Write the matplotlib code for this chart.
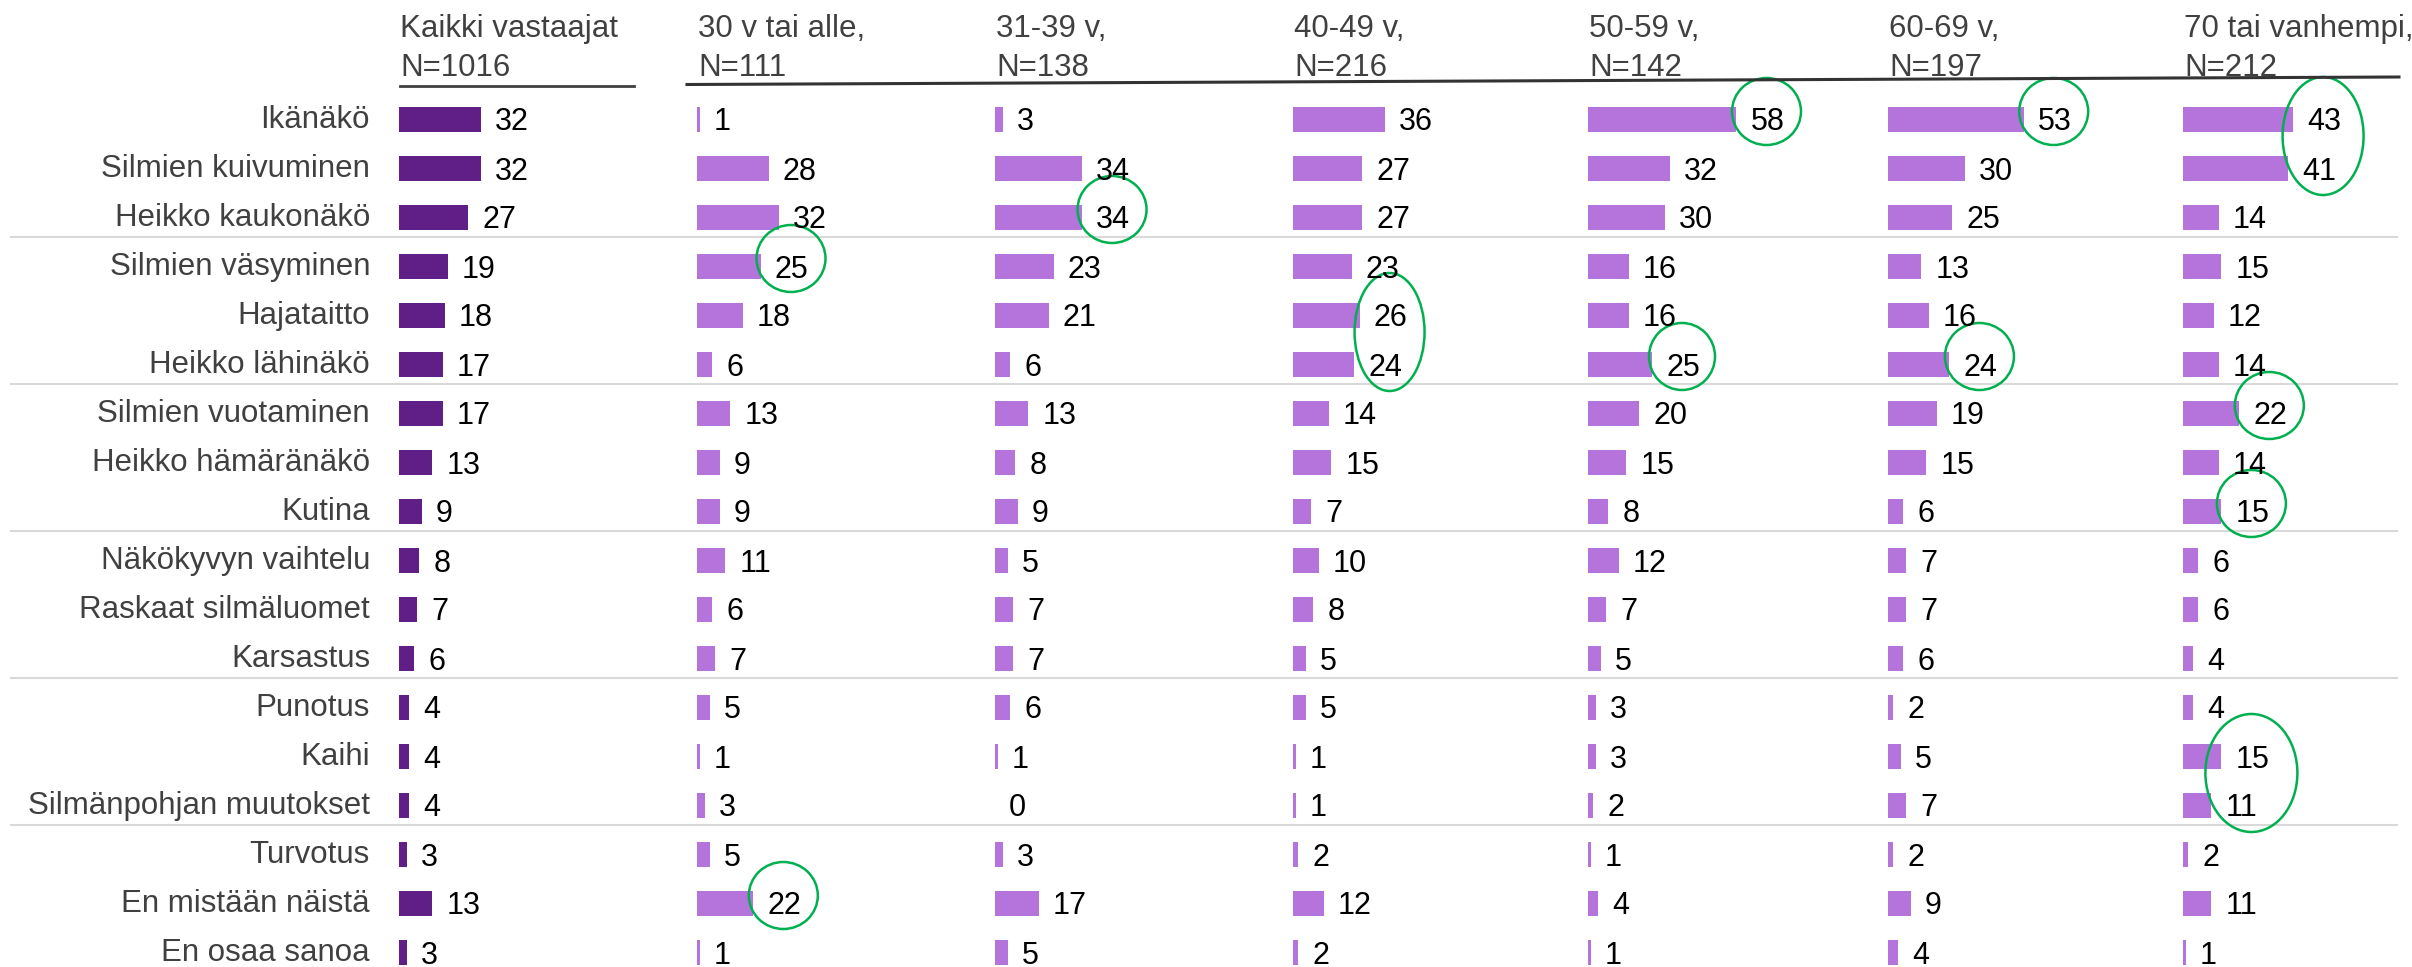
import matplotlib
matplotlib.use('Agg')
import matplotlib.pyplot as plt
from matplotlib.patches import Ellipse
from matplotlib.lines import Line2D

plt.rcParams['font.family'] = ['Liberation Sans', 'DejaVu Sans']

rows = ['Ikänäkö', 'Silmien kuivuminen', 'Heikko kaukonäkö', 'Silmien väsyminen',
        'Hajataitto', 'Heikko lähinäkö', 'Silmien vuotaminen', 'Heikko hämäränäkö',
        'Kutina', 'Näkökyvyn vaihtelu', 'Raskaat silmäluomet', 'Karsastus',
        'Punotus', 'Kaihi', 'Silmänpohjan muutokset', 'Turvotus',
        'En mistään näistä', 'En osaa sanoa']

groups = ['Kaikki vastaajat', '30 v tai alle,', '31-39 v,', '40-49 v,',
          '50-59 v,', '60-69 v,', '70 tai vanhempi,']
group_n = ['N=1016', 'N=111', 'N=138', 'N=216', 'N=142', 'N=197', 'N=212']

kaikki = [32, 32, 27, 19, 18, 17, 17, 13, 9, 8, 7, 6, 4, 4, 4, 3, 13, 3]
v30 = [1, 28, 32, 25, 18, 6, 13, 9, 9, 11, 6, 7, 5, 1, 3, 5, 22, 1]
v31_39 = [3, 34, 34, 23, 21, 6, 13, 8, 9, 5, 7, 7, 6, 1, 0, 3, 17, 5]
v40_49 = [36, 27, 27, 23, 26, 24, 14, 15, 7, 10, 8, 5, 5, 1, 1, 2, 12, 2]
v50_59 = [58, 32, 30, 16, 16, 25, 20, 15, 8, 12, 7, 5, 3, 3, 2, 1, 4, 1]
v60_69 = [53, 30, 25, 13, 16, 24, 19, 15, 6, 7, 7, 6, 2, 5, 7, 2, 9, 4]
v70 = [43, 41, 14, 15, 12, 14, 22, 14, 15, 6, 6, 4, 4, 15, 11, 2, 11, 1]
values = [kaikki, v30, v31_39, v40_49, v50_59, v60_69, v70]

# circled values: (group index, row indices)
highlights = [(1, [3]), (1, [16]), (2, [2]), (3, [4, 5]), (4, [0]), (4, [5]),
              (5, [0]), (5, [5]), (6, [0, 1]), (6, [6]), (6, [8]), (6, [13, 14])]
# ellipse widths in pixels, same order
hl_width = [69, 69, 69, 70, 69, 66, 69, 69, 81, 69, 69, 92]

W, H = 2412, 967
fig = plt.figure(figsize=(W / 100, H / 100), dpi=100)

px_unit = 2.56      # pixels per percentage point
row_px = 49         # row spacing in pixels
top_px = 95         # top of first row band
col_left = [399, 697, 995, 1293, 1588, 1888, 2183]
col_w = 285
dark = '#5f1f87'
light = '#b474dc'
txt = '#404040'
green = '#00b050'

y_low = (H - top_px) / row_px - 0.5
ax_h = (H - top_px) / H

# grey separators between row groups
bg = fig.add_axes([10 / W, 0, (2398 - 10) / W, ax_h])
bg.set_ylim(y_low, -0.5)
bg.set_xlim(0, 1)
bg.axis('off')
for k in [2, 5, 8, 11, 14]:
    bg.axhline(k + 0.39, color='#d9d9d9', lw=1.5)

axes = []
for g, vals in enumerate(values):
    ax = fig.add_axes([col_left[g] / W, 0, col_w / W, ax_h])
    ax.set_xlim(0, col_w / px_unit)
    ax.set_ylim(y_low, -0.5)
    ax.axis('off')
    ax.patch.set_alpha(0)
    ypos = list(range(len(rows)))
    ax.barh(ypos, vals, height=25 / row_px, color=dark if g == 0 else light)
    for i, v in enumerate(vals):
        ax.annotate(str(v), (v, i), xytext=(14, -11), textcoords='offset pixels',
                    va='baseline', ha='left', fontsize=22, color='black')
    # headers
    fig.text((col_left[g] + 1) / W, 1 - 37 / H, groups[g], fontsize=22.5,
             color=txt, va='baseline', ha='left')
    fig.text((col_left[g] + 1) / W, 1 - 76 / H, group_n[g], fontsize=22.5,
             color=txt, va='baseline', ha='left')
    axes.append(ax)

# row labels
for i, lab in enumerate(rows):
    axes[0].annotate(lab, (0, i), xytext=(-29, -8.5), textcoords='offset pixels',
                     ha='right', va='baseline', fontsize=22.5, color=txt)

# green highlight ellipses
for (g, idx), w_px in zip(highlights, hl_width):
    ax = axes[g]
    vmax = max(values[g][i] for i in idx)
    cx = vmax + 30 / px_unit
    cy = sum(idx) / len(idx) - 8 / row_px
    h_px = 67 if len(idx) == 1 else 118
    ax.add_patch(Ellipse((cx, cy), w_px / px_unit, h_px / row_px, fill=False,
                         edgecolor=green, lw=1.8, clip_on=False))

# header underlines
fig.add_artist(Line2D([400 / W, 634 / W], [1 - 86 / H, 1 - 86 / H], color=txt, lw=2))
fig.add_artist(Line2D([687 / W, 2399 / W], [1 - 84.5 / H, 1 - 77 / H],
                      color='#333333', lw=2.2))

fig.savefig('out.png', dpi=100, facecolor='white')
